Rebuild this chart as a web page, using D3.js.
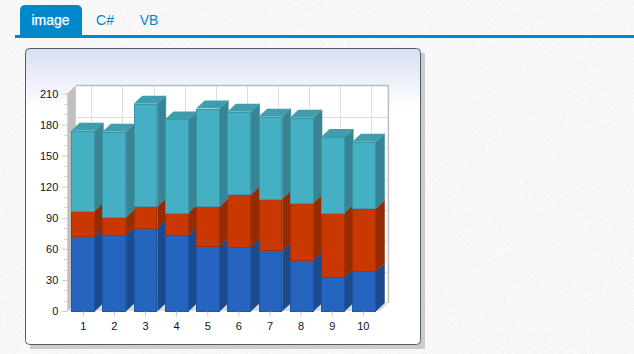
<!DOCTYPE html>
<html>
<head>
<meta charset="utf-8">
<script src="https://cdn.jsdelivr.net/npm/d3@7"></script>
<style>
html, body { margin: 0; padding: 0; background: #f7f7f7; overflow: hidden; }
text { font-family: "Liberation Sans", Arial, sans-serif; }
</style>
</head>
<body>
<div id="chart"></div>
<script>
// chart data
var categories = ["1", "2", "3", "4", "5", "6", "7", "8", "9", "10"];
var blueValues = [72, 73.5, 80, 73.5, 62.5, 62, 58.5, 49, 32.5, 38.5];
var redValues = [25, 17, 21, 21.5, 38.5, 50.5, 50, 55.5, 62.5, 60.5];
var tealValues = [77, 82.5, 99, 90, 94.5, 80, 79, 82, 73, 64.5];
var yTicks = [0, 30, 60, 90, 120, 150, 180, 210];
var yMinorTicks = [10, 20, 40, 50, 70, 80, 100, 110, 130, 140, 160, 170, 190, 200];
var tabLabels = ["image", "C#", "VB"];

var seriesColors = [
    {front: "#2565bf", side: "#1c4a8f", edge: "#1f55a5", top: "#2a6bc4"},
    {front: "#c93800", side: "#942b02", edge: "#a83000", top: "#b23200"},
    {front: "#45afc3", side: "#378594", edge: "#3b96a8", top: "#3f9dad"}
];

// depth of the 3d effect
var dx = 8.5, dy = -8;

var svg = d3.select("#chart")
    .append("svg")
    .attr("width", 634)
    .attr("height", 354)
    .style("display", "block");

var defs = svg.append("defs");

var grad = defs.append("linearGradient")
    .attr("id", "panelGrad")
    .attr("x1", 0).attr("x2", 0).attr("y1", 0).attr("y2", 1);
grad.append("stop").attr("offset", "0%").attr("stop-color", "#d6dff0");
grad.append("stop").attr("offset", "20%").attr("stop-color", "#ffffff");

// faint paper texture of the page
var noise = defs.append("filter").attr("id", "paper")
    .attr("x", 0).attr("y", 0).attr("width", "100%").attr("height", "100%");
noise.append("feTurbulence")
    .attr("type", "fractalNoise").attr("baseFrequency", 0.7)
    .attr("numOctaves", 2).attr("seed", 4);
noise.append("feColorMatrix")
    .attr("type", "matrix")
    .attr("values", "0 0 0 0 1  0 0 0 0 1  0 0 0 0 1  1.6 0 0 0 -0.55");

svg.append("rect")
    .attr("width", 634).attr("height", 354)
    .attr("fill", "#f5f5f5");
svg.append("rect")
    .attr("width", 634).attr("height", 354)
    .attr("filter", "url(#paper)");

// tabs
svg.append("path")
    .attr("d", "M20,35V10a5,5 0 0 1 5,-5H77a5,5 0 0 1 5,5V35Z")
    .attr("fill", "#0088cc");
svg.append("rect")
    .attr("x", 15).attr("y", 35).attr("width", 619).attr("height", 3)
    .attr("fill", "#0088cc");
svg.selectAll(".tab")
    .data(tabLabels)
    .enter()
    .append("text")
    .attr("class", "tab")
    .attr("x", function(d, i) { return [50.5, 105, 149][i]; })
    .attr("y", 25)
    .attr("text-anchor", "middle")
    .attr("font-size", 14)
    .attr("fill", function(d, i) { return i == 0 ? "#ffffff" : "#0088cc"; })
    .attr("stroke", function(d, i) { return i == 0 ? "#ffffff" : "none"; })
    .attr("stroke-width", 0.25)
    .text(function(d) { return d; });

// panel with shadow
svg.append("rect")
    .attr("x", 30).attr("y", 53).attr("width", 395).attr("height", 296)
    .attr("fill", "#cccccc");
svg.append("rect")
    .attr("x", 25.5).attr("y", 48.5).attr("width", 395).attr("height", 296)
    .attr("rx", 4)
    .attr("fill", "url(#panelGrad)")
    .attr("stroke", "#4e5f6b");

var x = d3.scaleBand()
    .domain(categories)
    .range([67.3, 379.9])
    .paddingInner(0.242)
    .paddingOuter(0.125);

// ticks and grid run a little tighter than the bars in the original
var xTick = d3.scalePoint()
    .domain(categories)
    .range([82.8, 362.8]);

var y = d3.scaleLinear()
    .domain([0, 210])
    .range([311, 93.5]);

var x0 = x.range()[0], x1 = x.range()[1];
var y0 = y(0), yTop = y(210);

function poly(pts) {
    return "M" + pts.map(function(p) { return p[0] + "," + p[1]; }).join("L") + "Z";
}

// back wall
svg.append("rect")
    .attr("x", x0 + dx).attr("y", yTop + dy)
    .attr("width", x1 - x0).attr("height", y0 - yTop)
    .attr("fill", "#ffffff");

// grid on the back wall
svg.selectAll(".vgrid")
    .data(categories)
    .enter()
    .append("line")
    .attr("x1", function(d) { return Math.round(xTick(d) + dx) + 0.5; })
    .attr("x2", function(d) { return Math.round(xTick(d) + dx) + 0.5; })
    .attr("y1", yTop + dy).attr("y2", y0 + dy)
    .attr("stroke", "#dedede");
svg.selectAll(".hgrid")
    .data(yTicks.slice(1, -1))
    .enter()
    .append("line")
    .attr("x1", x0 + dx).attr("x2", x1 + dx)
    .attr("y1", function(d) { return Math.round(y(d) + dy) + 0.5; })
    .attr("y2", function(d) { return Math.round(y(d) + dy) + 0.5; })
    .attr("stroke", "#dedede");

// back wall frame
svg.append("path")
    .attr("d", "M" + (x0 + dx) + "," + (yTop + dy) + "H" + (x1 + dx) + "V" + (y0 + dy))
    .attr("fill", "none")
    .attr("stroke", "#bdbdbd")
    .attr("stroke-width", 1.5);

// left wall and floor
svg.append("path")
    .attr("d", poly([[x0, yTop], [x0 + dx, yTop + dy], [x0 + dx, y0 + dy], [x0, y0]]))
    .attr("fill", "#c0c0c0");
svg.append("path")
    .attr("d", poly([[x0, y0], [x0 + dx, y0 + dy], [x1 + dx, y0 + dy], [x1, y0]]))
    .attr("fill", "#dcdcdc");

// stacked 3d bars
var stack = d3.stack().keys(["blue", "red", "teal"]);
var rows = categories.map(function(c, i) {
    return {cat: c, blue: blueValues[i], red: redValues[i], teal: tealValues[i]};
});
var series = stack(rows);

var layers = svg.selectAll(".layer")
    .data(series)
    .enter()
    .append("g")
    .attr("class", "layer");

var bars = layers.selectAll(".bar")
    .data(function(s) {
        return s.map(function(d) {
            return {cat: d.data.cat, low: d[0], high: d[1], color: seriesColors[s.index]};
        });
    })
    .enter()
    .append("g")
    .attr("class", "bar");

// side face
bars.append("path")
    .attr("d", function(d) {
        var r = x(d.cat) + x.bandwidth();
        return poly([[r, y(d.high)], [r + dx, y(d.high) + dy], [r + dx, y(d.low) + dy], [r, y(d.low)]]);
    })
    .attr("fill", function(d) { return d.color.side; })
    .attr("stroke", function(d) { return d.color.side; })
    .attr("stroke-width", 0.5);

// top face, only the teal cap shows it
bars.filter(function(d) { return d.color === seriesColors[2]; })
    .append("path")
    .attr("d", function(d) {
        var l = x(d.cat), r = l + x.bandwidth();
        return poly([[l, y(d.high)], [l + dx, y(d.high) + dy], [r + dx, y(d.high) + dy], [r, y(d.high)]]);
    })
    .attr("fill", function(d) { return d.color.top; });

// front face
bars.append("rect")
    .attr("x", function(d) { return Math.round(x(d.cat)) + 0.5; })
    .attr("y", function(d) { return Math.round(y(d.high)) + 0.5; })
    .attr("width", function(d) { return Math.round(x(d.cat) + x.bandwidth()) - Math.round(x(d.cat)) - 1; })
    .attr("height", function(d) { return Math.round(y(d.low)) - Math.round(y(d.high)); })
    .attr("fill", function(d) { return d.color.front; })
    .attr("stroke", function(d) { return d.color.edge; });

// axes
var yAxis = svg.append("g")
    .attr("transform", "translate(" + x0 + ",0)")
    .call(d3.axisLeft(y).tickValues(yTicks).tickSize(5).tickPadding(4));
yAxis.select(".domain").remove();
yAxis.selectAll("line").attr("stroke", "#c8c8c8");
yAxis.selectAll("text").attr("font-size", 11).attr("fill", "#10102a")
    .attr("font-family", "Liberation Sans, Arial, sans-serif");

svg.append("g")
    .attr("transform", "translate(" + x0 + ",0)")
    .selectAll("line")
    .data(yMinorTicks)
    .enter()
    .append("line")
    .attr("x1", -3).attr("x2", 0)
    .attr("y1", function(d) { return Math.round(y(d)) + 0.5; })
    .attr("y2", function(d) { return Math.round(y(d)) + 0.5; })
    .attr("stroke", "#d0d0d0");

var xAxis = svg.append("g")
    .attr("transform", "translate(0," + (y0 + 0.5) + ")")
    .call(d3.axisBottom(xTick).tickSize(5).tickPadding(6));
xAxis.select(".domain").remove();
xAxis.selectAll("line").attr("stroke", "#c8c8c8");
xAxis.selectAll("text").attr("font-size", 11).attr("fill", "#10102a")
    .attr("font-family", "Liberation Sans, Arial, sans-serif");
</script>
</body>
</html>
